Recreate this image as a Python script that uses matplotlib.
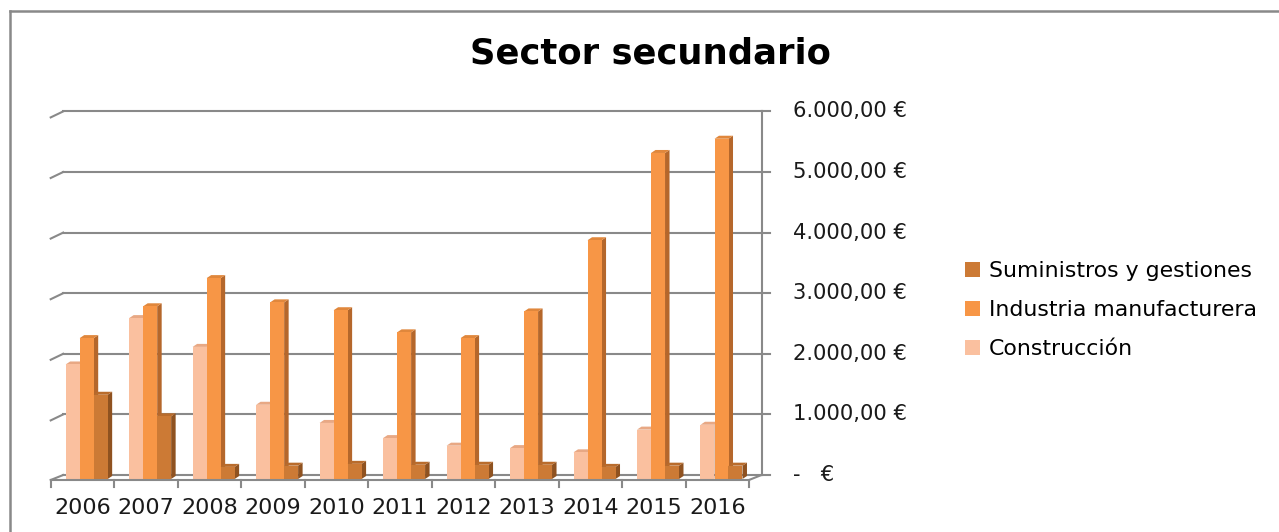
import matplotlib
matplotlib.use("Agg")
import matplotlib.pyplot as plt
from matplotlib.patches import Polygon, Patch
from matplotlib.lines import Line2D

years = ["2006", "2007", "2008", "2009", "2010", "2011", "2012", "2013", "2014", "2015", "2016"]
construccion = [1890, 2655, 2180, 1225, 925, 675, 550, 510, 440, 815, 895]
industria = [2325, 2850, 3315, 2915, 2785, 2420, 2325, 2765, 3940, 5380, 5615]
suministros = [1390, 1035, 200, 220, 250, 235, 235, 235, 200, 220, 220]
tick_values = [0, 1000, 2000, 3000, 4000, 5000, 6000]
tick_labels = ["-   €", "1.000,00 €", "2.000,00 €", "3.000,00 €", "4.000,00 €", "5.000,00 €", "6.000,00 €"]
title = "Sector secundario"

W, H = 1279, 532
fig = plt.figure(figsize=(W / 100, H / 100), dpi=100)

# axes placement in pixels
x_left_px, x_right_px = 50.7, 749.0
y0_px = 479.0            # value 0 (front plane)
px_per_unit = 0.0606     # pixels per euro
cat_px = (x_right_px - x_left_px) / len(years)
ymax = 6000
y_top_px = y0_px - ymax * px_per_unit
ax = fig.add_axes([x_left_px / W, 1 - y0_px / H, (x_right_px - x_left_px) / W, (y0_px - y_top_px) / H])
ax.set_xlim(-0.5, len(years) - 0.5)
ax.set_ylim(0, ymax)
ax.axis("off")

def dxp(px):
    return px / cat_px

def dyp(px):
    return px / px_per_unit

grid_col = "#898989"
glw = 1.5
# back wall offset
bx, by = dxp(12.5), dyp(4)
xs, xe = -0.5, len(years) - 0.5
for v in tick_values:
    ax.plot([xs + bx, xe + bx], [v + by, v + by], color=grid_col, lw=glw, clip_on=False, zorder=1)
    ax.plot([xs, xs + bx], [v - dyp(2) if v > 0 else -dyp(1), v + by], color=grid_col, lw=glw, clip_on=False, zorder=1)
    ax.plot([xe + bx, xe + bx + dxp(8)], [v + by, v + by], color=grid_col, lw=glw, clip_on=False, zorder=1)
# right vertical axis
ax.plot([xe + bx, xe + bx], [by, ymax + by], color=grid_col, lw=glw, clip_on=False, zorder=1)
# front floor edge
fy = -dyp(1)
ax.plot([xs, xe], [fy, fy], color=grid_col, lw=glw, clip_on=False, zorder=5)
ax.plot([xe, xe + bx], [fy, by], color=grid_col, lw=glw, clip_on=False, zorder=5)
for k in range(len(years) + 1):
    xk = xs + k
    ax.plot([xk, xk], [fy, fy - dyp(7)], color=grid_col, lw=glw, clip_on=False, zorder=5)

# bars
series = [
    (construccion, -0.154, ("#FAC09F", "#E8A884", "#C98E6E")),
    (industria, 0.067, ("#F79646", "#E0873C", "#B5672B")),
    (suministros, 0.287, ("#CC7A35", "#B96C2C", "#8F5220")),
]
bw = dxp(14)
sdx, sdy = dxp(4.5), dyp(3)
for i in range(len(years)):
    for vals, off, (cf, ct, cs) in series:
        v = vals[i]
        x0 = i + off - bw / 2
        x1 = x0 + bw
        side = Polygon([(x1, 0), (x1 + sdx, sdy), (x1 + sdx, v + sdy), (x1, v)], closed=True,
                       facecolor=cs, edgecolor="none", clip_on=False, zorder=3)
        top = Polygon([(x0, v), (x0 + sdx, v + sdy), (x1 + sdx, v + sdy), (x1, v)], closed=True,
                      facecolor=ct, edgecolor="none", clip_on=False, zorder=3)
        front = Polygon([(x0, 0), (x0, v), (x1, v), (x1, 0)], closed=True,
                        facecolor=cf, edgecolor="none", clip_on=False, zorder=3)
        ax.add_patch(side)
        ax.add_patch(top)
        ax.add_patch(front)

# x labels
for i, yl in enumerate(years):
    ax.text(i, -dyp(29), yl, ha="center", va="center", fontsize=16, color="#1a1a1a", clip_on=False)

# right value labels
lab_x = xs + dxp(793 - x_left_px)
for v, t in zip(tick_values, tick_labels):
    ax.text(lab_x, v + by, t, ha="left", va="center", fontsize=15.2, color="#1a1a1a", clip_on=False)

# title
fig.text(650 / W, 1 - 53 / H, title, ha="center", va="center", fontsize=25.5, fontweight="bold", color="black")

# legend
handles = [Patch(facecolor="#CC7A35", edgecolor="none"),
           Patch(facecolor="#F79646", edgecolor="none"),
           Patch(facecolor="#FAC09F", edgecolor="none")]
labels = ["Suministros y gestiones", "Industria manufacturera", "Construcción"]
fig.legend(handles, labels, loc="center left", bbox_to_anchor=(965 / W, 1 - 310 / H),
           frameon=False, fontsize=15.8, handlelength=0.7, handleheight=0.7,
           handletextpad=0.4, labelspacing=0.86, borderpad=0, borderaxespad=0)

# chart border (top and left visible)
fig.add_artist(Line2D([10 / W, 1], [1 - 11 / H, 1 - 11 / H], color=grid_col, lw=1.8))
fig.add_artist(Line2D([10 / W, 10 / W], [1 - 11 / H, 0], color=grid_col, lw=1.8))

fig.savefig("out.png", dpi=100, facecolor="white")
